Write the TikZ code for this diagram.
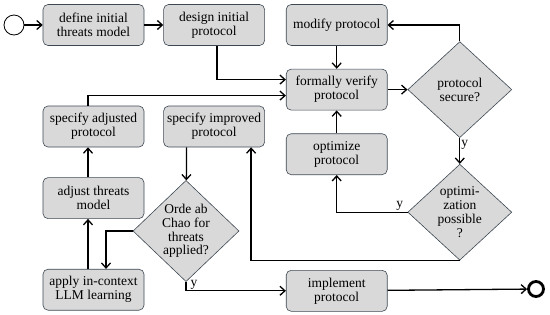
\documentclass[tikz,border=0pt]{standalone}
\usepackage{fontspec}
\setmainfont{Liberation Serif}
\usepackage{tikz}
\usetikzlibrary{shapes.geometric, arrows.meta, positioning, calc}
\definecolor{boxgray}{HTML}{D9D9D9}
\definecolor{boxedge}{HTML}{3E4852}
\tikzstyle{process} = [rectangle, rounded corners=5pt, minimum width=101pt, minimum height=41pt, inner sep=1pt, text centered, align=center, draw=boxedge, line width=0.6pt, fill=boxgray, font=\fontsize{13.5}{14}\selectfont]
\tikzstyle{decision} = [diamond, minimum width=104pt, minimum height=96pt, inner sep=0pt, text centered, align=center, draw=boxedge, line width=0.6pt, fill=boxgray, font=\fontsize{13.5}{13.8}\selectfont]
\tikzstyle{arrow} = [line width=1.3pt, ->, >={Straight Barb[length=5pt,width=9pt]}]
\tikzstyle{answer} = [font=\fontsize{13.5}{14}\selectfont, inner sep=1pt]

\begin{document}
\begin{tikzpicture}[x=1pt, y=-1pt, node distance=20pt]
    \useasboundingbox (0,0) rectangle (550,314);
    \node[circle, draw, minimum size=20pt, inner sep=0pt, line width=0.8pt] (start) at (14,25) {};
    \node[process] (define) at (93.5,25) {define initial\\threats model};
    \node[process, right=19pt of define] (design) {design initial\\protocol};
    \node[process, right=21pt of design] (modify) {modify protocol};
    \node[process, below=23pt of modify] (verify) {formally verify\\protocol};
    \node[decision, right=20pt of verify] (secure) {protocol\\secure?};
    \node[process, below=23pt of verify] (optimize) {optimize\\protocol};
    \node[decision, below=26pt of secure] (optposs) {optimi-\\zation\\possible\\?};
    \node[process, below=95pt of optimize] (implement) {implement\\protocol};
    \node[circle, draw, minimum size=15pt, inner sep=0pt, line width=2.8pt] (stop) at (536,289) {};
    \node[process] (adjusted) at (93.5,126.5) {specify adjusted\\protocol};
    \node[process, right=19pt of adjusted] (improved) {specify improved\\protocol};
    \node[process, below=30pt of adjusted] (adjust) {adjust threats\\model};
    \node[process, below=50pt of adjust] (apply) {apply in-context\\LLM learning};
    \node[decision, minimum width=106pt, minimum height=98pt] (chao) at (186,231) {Orde ab\\Chao for\\threats\\applied?};

    \draw[arrow] (start) -- (define);
    \draw[arrow] (define) -- (design);
    \draw[arrow] ([xshift=3pt]design.south) |- ([yshift=10pt]verify.west);
    \draw[arrow] ([xshift=-5.5pt]adjusted.north) |- ([yshift=-6pt]verify.west);
    \draw[arrow] (modify) -- (verify);
    \draw[arrow] (verify) -- (secure);
    \draw[arrow] (secure.north) |- (modify.east);
    \draw[arrow] (secure) -- node[answer, right, pos=0.25] {y} (optposs);
    \draw[arrow] (optposs.west) -| node[answer, above left, pos=0.02] {y} (optimize.south);
    \draw[arrow] (optimize) -- (verify);
    \draw[arrow] (optposs.south) -| ([xshift=37pt]improved.south);
    \draw[arrow] ([xshift=-27.5pt]improved.south) -- (chao);
    \draw[arrow] (chao.west) -| ([xshift=12.5pt]apply.north);
    \draw[arrow] ([xshift=-5.5pt]apply.north) -- ([xshift=-5.5pt]adjust.south);
    \draw[arrow] ([xshift=-5.5pt]adjust.north) -- ([xshift=-5.5pt]adjusted.south);
    \draw[arrow] (chao.south) |- node[answer, right=3pt, pos=0.15] {y} (implement.west);
    \draw[arrow] (implement) -- (stop);
\end{tikzpicture}
\end{document}
